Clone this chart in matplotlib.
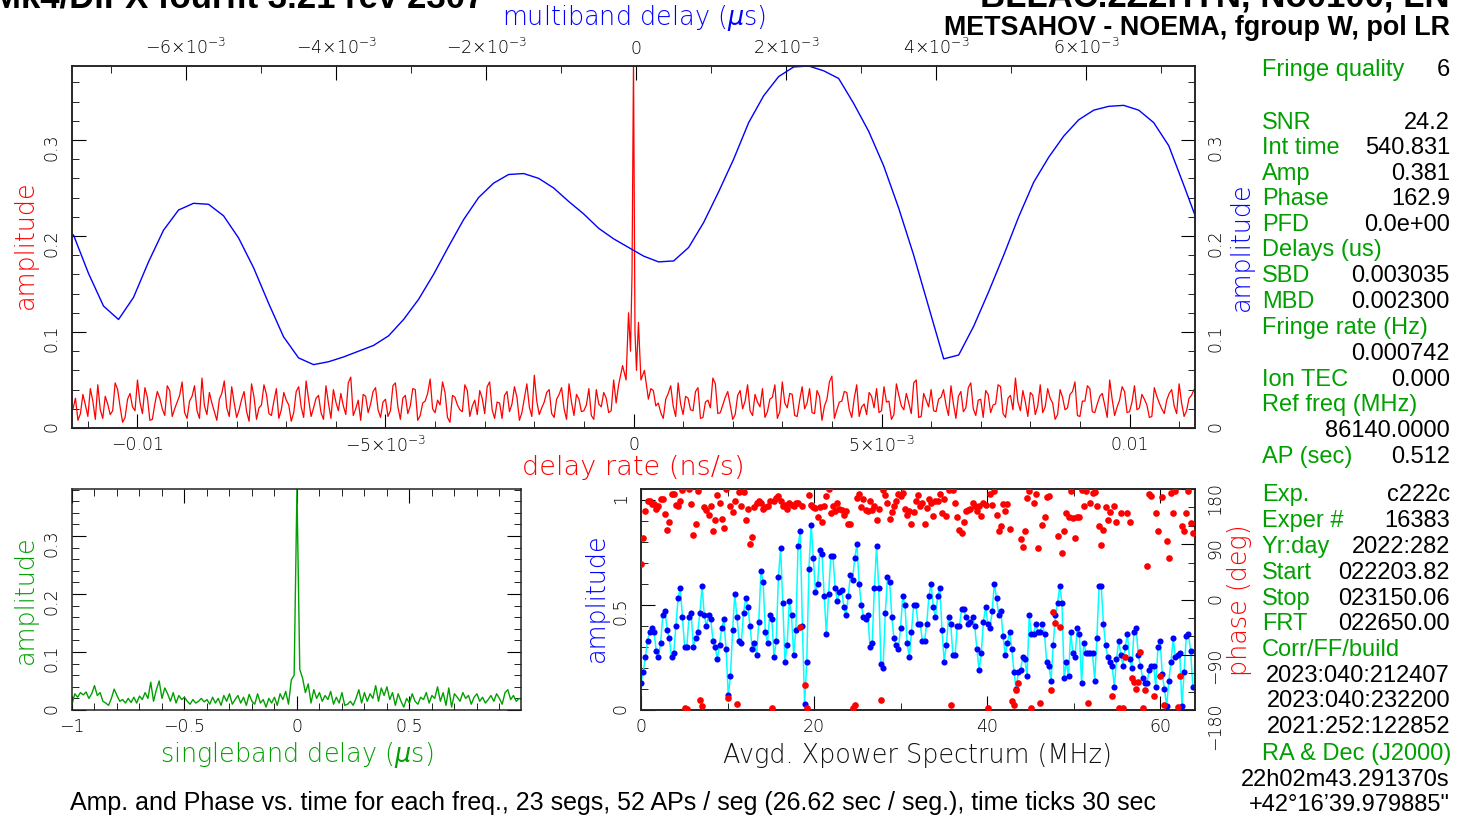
import numpy as np
import matplotlib
matplotlib.use("Agg")
import matplotlib.pyplot as plt
from matplotlib.ticker import MultipleLocator

plt.rcParams['font.family'] = ['DejaVu Sans']
plt.rcParams['font.weight'] = 'light'
plt.rcParams['mathtext.fontset'] = 'dejavusans'

W, H = 1470, 816
RED = "#ff0000"
BLUE = "#0000ff"
GREEN = "#00a000"
CYAN = "#00ffff"

# ---- delay rate amplitude (red, top panel): samples every 1e-4 ns/s and the ones in between ----
rate_noise = [
    .020, .008, .035, .012, .028, .045, .010, .025, .018, .040, .006, .030, .022, .050, .015, .032, .009, .038, .020, .044,
    .012, .027, .048, .010, .033, .018, .052, .014, .026, .008, .036, .021, .043, .011, .030, .017, .046, .009, .024, .035,
    .013, .041, .019, .029, .007, .038, .022, .049, .012, .031, .016, .044, .010, .027, .036, .014, .053, .020, .008, .033,
    .025, .042, .011, .030, .018, .047, .009, .034, .023, .040, .013, .028, .051, .016, .024, .037, .006, .032, .019, .045,
    .012, .029, .039, .015, .048, .010, .026, .034, .017, .043, .008, .031, .022, .055, .014, .027, .040, .011, .035, .020,
    .046, .013, .030, .018, .041, .009, .025, .037, .016, .050, .012, .028, .021, .044, .007, .033, .019, .039, .026, .010,
    .036, .023, .047, .014, .031, .018, .042, .011, .029, .052, .015, .024, .038, .009, .034, .020, .045, .013, .027, .041,
    .017, .032, .010, .048, .021, .035, .012, .043, .026, .016, .039, .008, .030, .054, .019, .028, .037, .011, .045, .022,
    .014, .033, .041, .018, .027, .009, .046, .023, .036, .015, .050, .012, .029, .040, .017, .032, .024, .044, .010, .038,
    .021, .047, .013, .030, .039, .016, .025, .043, .011, .034, .052, .018, .027, .037, .014, .045, .022, .031, .009, .040,
    .019, .035, .048, .012, .028, .041, .016, .033, .024, .050, .013, .029, .038, .017, .044, .021, .030, .011, .042, .026,
    .015, .036, .023, .046, .012, .031, .040]
rate_noise_mid = [
    .031, .015, .024, .041, .009, .019, .033, .014, .047, .022, .011, .036, .018, .027, .042, .008, .025, .031, .013, .039,
    .020, .034, .016, .028, .044, .010, .023, .037, .017, .030, .049, .012, .026, .019, .038, .007, .032, .021, .045, .015,
    .028, .010, .037, .024, .016, .043, .011, .030, .021, .034, .009, .026, .040, .018, .023, .047, .013, .029, .035, .016,
    .038, .019, .027, .012, .044, .022, .031, .015, .041, .008, .026, .036, .020, .029, .048, .011, .034, .024, .017, .039,
    .023, .014, .031, .043, .019, .027, .010, .038, .025, .032, .016, .046, .012, .028, .021, .037, .015, .030, .042, .009,
    .027, .035, .017, .024, .013, .040, .022, .031, .018, .026, .014, .037, .029, .020, .033, .011, .041, .023, .016, .030,
    .044, .012, .025, .033, .019, .038, .010, .027, .021, .046, .016, .032, .024, .014, .039, .028, .018, .035, .022, .011,
    .030, .045, .017, .026, .036, .013, .029, .020, .041, .015, .033, .023, .048, .010, .027, .038, .019, .031, .012, .025,
    .037, .021, .016, .043, .028, .014, .034, .019, .026, .047, .011, .036, .022, .018, .030, .040, .013, .025, .033, .017,
    .042, .020, .029, .011, .035, .024, .045, .015, .031, .019, .027, .039, .012, .034, .023, .016, .041, .026, .014, .032,
    .021, .038, .013, .028, .044, .017, .025, .036, .011, .030, .022, .043, .016, .027, .019, .035, .024, .012, .033, .020,
    .029, .040, .015, .026, .018, .034]
rate_peak_x = [-0.0003, -0.00022, -0.00015, -0.0001, -0.00006, -0.00003, 0.0,
               0.00003, 0.00006, 0.0001, 0.00015, 0.00022, 0.0003]
rate_peak_amp = [0.045, 0.065, 0.05, 0.12, 0.08, 0.16, 0.381,
                 0.10, 0.06, 0.11, 0.05, 0.06, 0.03]

# ---- multiband delay amplitude (blue, top panel), every 0.0002 us from -0.0075 ----
mbd_amp = [
    0.201, 0.161, 0.127, 0.113, 0.136, 0.173, 0.206, 0.227, 0.234, 0.233, 0.221, 0.198, 0.167, 0.130, 0.095, 0.073,
    0.066, 0.069, 0.074, 0.080, 0.086, 0.096, 0.113, 0.134, 0.160, 0.189, 0.217, 0.240, 0.255, 0.264, 0.265, 0.260,
    0.250, 0.236, 0.223, 0.208, 0.197, 0.188, 0.179, 0.173, 0.174, 0.188, 0.214, 0.246, 0.280, 0.318, 0.346, 0.366,
    0.376, 0.377, 0.372, 0.364, 0.338, 0.309, 0.273, 0.229, 0.180, 0.126, 0.072, 0.076, 0.106, 0.142, 0.180, 0.220,
    0.256, 0.282, 0.304, 0.321, 0.331, 0.335, 0.336, 0.331, 0.318, 0.294, 0.253, 0.211]

# ---- singleband delay amplitude (green) ----
sbd_amp = [
    .010, .028, .022, .030, .026, .031, .020, .028, .042, .025, .030, .015, .012, .008, .020, .036,
    .025, .015, .018, .012, .020, .013, .022, .012, .024, .018, .030, .020, .048, .015, .035, .050,
    .020, .038, .028, .015, .030, .012, .025, .018, .022, .015, .010, .018, .012, .015, .020, .014,
    .018, .010, .022, .012, .020, .008, .025, .015, .028, .010, .018, .025, .012, .022, .008, .027,
    .015, .010, .028, .012, .018, .005, .020, .012, .022, .008, .028, .018, .032, .010, .052, .060,
    .381, .070, .055, .030, .045, .012, .035, .020, .030, .015, .025, .018, .032, .010, .022, .012,
    .030, .008, .010, .015, .008, .020, .035, .012, .030, .015, .028, .020, .042, .015, .038, .025,
    .040, .018, .030, .008, .028, .015, .005, .020, .012, .028, .015, .010, .022, .018, .030, .012,
    .025, .020, .040, .015, .030, .008, .038, .005, .028, .022, .015, .030, .020, .025, .010, .022,
    .028, .015, .022, .012, .018, .025, .015, .028, .020, .010, .030, .035, .018, .025, .015, .020,
    .018]

# ---- averaged cross-power spectrum ----
xp_amp = [
    0.13, 0.18, 0.25, 0.33, 0.37, 0.39, 0.37, 0.28, 0.25, 0.32, 0.45, 0.47, 0.38, 0.34, 0.25, 0.27,
    0.40, 0.53, 0.58, 0.44, 0.30, 0.30, 0.44, 0.46, 0.30, 0.34, 0.37, 0.46, 0.59, 0.45, 0.40, 0.45,
    0.43, 0.33, 0.30, 0.24, 0.31, 0.39, 0.43, 0.29, 0.07, 0.16, 0.38, 0.55, 0.44, 0.33, 0.32, 0.46,
    0.53, 0.49, 0.40, 0.29, 0.32, 0.26, 0.42, 0.66, 0.61, 0.37, 0.32, 0.45, 0.43, 0.25, 0.33, 0.63,
    0.77, 0.51, 0.23, 0.31, 0.52, 0.45, 0.26, 0.38, 0.78, 0.85, 0.40, 0.03, 0.23, 0.67, 0.88, 0.72,
    0.56, 0.60, 0.76, 0.74, 0.54, 0.36, 0.55, 0.73, 0.73, 0.58, 0.52, 0.56, 0.57, 0.49, 0.45, 0.54,
    0.64, 0.62, 0.72, 0.79, 0.60, 0.50, 0.44, 0.43, 0.45, 0.30, 0.32, 0.58, 0.78, 0.58, 0.22, 0.20,
    0.46, 0.63, 0.61, 0.44, 0.34, 0.31, 0.29, 0.39, 0.54, 0.50, 0.32, 0.25, 0.37, 0.50, 0.50, 0.41,
    0.41, 0.33, 0.33, 0.41, 0.54, 0.60, 0.49, 0.44, 0.54, 0.58, 0.38, 0.23, 0.31, 0.44, 0.41, 0.26,
    0.26, 0.40, 0.40, 0.48, 0.48, 0.44, 0.41, 0.42, 0.44, 0.40, 0.29, 0.19, 0.27, 0.42, 0.49, 0.41,
    0.39, 0.47, 0.60, 0.53, 0.45, 0.47, 0.35, 0.26, 0.32, 0.37, 0.29, 0.18, 0.10, 0.18, 0.19, 0.25,
    0.24, 0.16, 0.45, 0.36, 0.36, 0.41, 0.37, 0.37, 0.41, 0.36, 0.23, 0.21, 0.14, 0.31, 0.45, 0.51,
    0.59, 0.51, 0.15, 0.23, 0.16, 0.37, 0.27, 0.25, 0.39, 0.36, 0.13, 0.32, 0.27, 0.27, 0.27, 0.27,
    0.14, 0.34, 0.59, 0.59, 0.41, 0.31, 0.25, 0.23, 0.21, 0.11, 0.24, 0.33, 0.26, 0.21, 0.30, 0.36,
    0.24, 0.20, 0.37, 0.39, 0.26, 0.21, 0.15, 0.13, 0.13, 0.19, 0.21, 0.21, 0.11, 0.30, 0.33, 0.17,
    0.10, 0.02, 0.14, 0.23, 0.34, 0.25, 0.26, 0.27, 0.02, 0.18, 0.35, 0.36, 0.28, 0.11]
xp_phase = [
    58, 100, 144, 161, 161, 156, 156, 147, 152, 163, 163, 139, 113, 126, 172, 172,
    154, 152, 160, 179, -177, -178, 180, 156, 105, 123, 177, -163, -174, 150, 146, 137,
    152, 112, 129, 170, 158, 131, 116, 180, -161, 152, 142, 160, -170, 175, 152, 175,
    130, 147, 91, 101, 150, 158, 161, 157, 147, 150, 152, 161, -177, 160, 165, 169,
    161, 152, 154, 147, 157, 154, 152, 157, 158, -44, 152, -139, -176, 171, 154, 150,
    149, 135, 150, 127, 152, 168, 180, 141, 153, 144, 157, 147, 145, 138, 144, 123,
    123, -177, -172, 165, 172, 150, 163, 146, 144, 160, 146, 152, 130, 148, -164, 178,
    171, 157, 131, 142, 152, 161, 172, 169, 174, 147, 138, 144, 123, 142, 160, 170,
    152, 158, 123, 149, 163, 158, 136, 161, 161, 172, 141, 163, 136, 179, -172, 179,
    157, 135, 114, 108, 126, 144, 145, 147, 157, 152, 144, 152, 136, 157, 154, -177,
    172, 154, 176, 138, 111, 120, 156, 144, 156, 115, -165, -172, -147, -136, 98, 86,
    111, 165, 176, -177, 158, 172, 84, -169, 122, 135, 167, 168, -147, -20, -38, 103,
    -44, 75, 111, 141, 134, 176, 133, 100, 135, 135, 179, 152, 176, -168, 157, 174,
    175, 152, 119, 88, 114, 150, 130, 142, -158, 152, 127, -177, 141, -176, -93, 141,
    127, -128, -134, -145, -134, -85, -177, -147, 54, 172, 168, -158, 141, 111, -125, 167,
    -172, 95, 68, 174, 141, 176, -175, -125, 119, 111, 141, 176, 124, 108]

# ---- right-hand summary text (label, value, baseline row in px) ----
info_rows = [
    ("Fringe quality", "6", 76),
    ("SNR", "24.2", 129), ("Int time", "540.831", 154), ("Amp", "0.381", 180),
    ("Phase", "162.9", 205), ("PFD", "0.0e+00", 231), ("Delays (us)", "", 256),
    ("SBD", "0.003035", 282), ("MBD", "0.002300", 308), ("Fringe rate (Hz)", "", 334),
    ("", "0.000742", 360), ("Ion TEC", "0.000", 386), ("Ref freq (MHz)", "", 411),
    ("", "86140.0000", 437), ("AP (sec)", "0.512", 463),
    ("Exp.", "c222c", 501), ("Exper #", "16383", 527), ("Yr:day", "2022:282", 553),
    ("Start", "022203.82", 579), ("Stop", "023150.06", 605), ("FRT", "022650.00", 630),
    ("Corr/FF/build", "", 656), ("", "2023:040:212407", 682), ("", "2023:040:232200", 707),
    ("", "2021:252:122852", 733), ("RA & Dec (J2000)", "", 760),
    ("", "22h02m43.291370s", 786), ("", "+42\u00b016\u201939.979885\"", 811),
]


def fx(px):
    return px / W


def fy(py):
    return 1 - py / H


def frame(a):
    for s in a.spines.values():
        s.set_color("#222222")
        s.set_linewidth(1.1)


TS = 12.5   # tick label size
LS = 18.4   # axis label size

fig = plt.figure(figsize=(W / 100, H / 100), dpi=100)

# ================= top panel =================
ax = fig.add_axes([fx(72), fy(428), (1195 - 72) / W, (428 - 66) / H])
noise = np.empty(len(rate_noise) + len(rate_noise_mid))
noise[0::2] = rate_noise
noise[1::2] = rate_noise_mid
rx = np.linspace(-0.0113, 0.0113, len(noise))
keep = np.abs(rx) > 0.00032
rate_x = np.concatenate([rx[keep], rate_peak_x])
rate_amp = np.concatenate([noise[keep], rate_peak_amp])
order = np.argsort(rate_x)
ax.plot(rate_x[order], rate_amp[order], color=RED, lw=0.9)
ax.set_xlim(-0.01132, 0.01132)
ax.set_ylim(0, 0.377)
ax.set_xticks([-0.01, -0.005, 0, 0.005, 0.01],
              labels=["\u22120.01", r"$-5{\times}10^{-3}$", "0", r"$5{\times}10^{-3}$", "0.01"])
ax.xaxis.set_minor_locator(MultipleLocator(0.001))
ax.set_yticks([0, 0.1, 0.2, 0.3], labels=["0", "0.1", "0.2", "0.3"])
ax.yaxis.set_minor_locator(MultipleLocator(0.02))
ax.tick_params(axis='x', which='both', direction='in', top=False, bottom=True, labelsize=TS, pad=6)
ax.tick_params(axis='y', which='both', direction='in', left=True, right=True,
               labelleft=True, labelright=True, labelsize=TS, labelrotation=90, pad=8)
ax.tick_params(which='major', length=10)
ax.tick_params(which='minor', length=5)
frame(ax)

axt = ax.twiny()
mbd_x = np.linspace(-0.0075, 0.0075, len(mbd_amp))
axt.plot(mbd_x, mbd_amp, color=BLUE, lw=1.0)
axt.set_xlim(-0.00752, 0.00745)
axt.set_xticks([-0.006, -0.004, -0.002, 0, 0.002, 0.004, 0.006],
               labels=[r"$-6{\times}10^{-3}$", r"$-4{\times}10^{-3}$", r"$-2{\times}10^{-3}$", "0",
                       r"$2{\times}10^{-3}$", r"$4{\times}10^{-3}$", r"$6{\times}10^{-3}$"])
axt.xaxis.set_minor_locator(MultipleLocator(0.001))
axt.tick_params(axis='x', which='both', direction='in', top=True, bottom=False, labelsize=TS, pad=6)
axt.tick_params(which='major', length=10)
axt.tick_params(which='minor', length=5)
frame(axt)

fig.text(fx(25), fy(245), "amplitude", color=RED, fontsize=LS, rotation=90, ha='center', va='center')
fig.text(fx(1241), fy(247), "amplitude", color=BLUE, fontsize=LS, rotation=90, ha='center', va='center')
fig.text(fx(634), fy(18), r"multiband delay ($\mu$s)", color=BLUE, fontsize=LS, ha='center', va='center')
fig.text(fx(633), fy(467), "delay rate (ns/s)", color=RED, fontsize=19.5, ha='center', va='center')

# ================= singleband delay panel =================
ax2 = fig.add_axes([fx(72), fy(710), (521 - 72) / W, (710 - 489) / H])
sbd_x = np.linspace(-1, 1, len(sbd_amp))
ax2.plot(sbd_x, sbd_amp, color=GREEN, lw=1.0)
ax2.set_xlim(-1, 0.996)
ax2.set_ylim(0, 0.381)
ax2.set_xticks([-1, -0.5, 0, 0.5], labels=["\u22121", "\u22120.5", "0", "0.5"])
ax2.xaxis.set_minor_locator(MultipleLocator(0.1))
ax2.set_yticks([0, 0.1, 0.2, 0.3], labels=["0", "0.1", "0.2", "0.3"])
ax2.yaxis.set_minor_locator(MultipleLocator(0.02))
ax2.tick_params(axis='x', which='both', direction='in', top=True, bottom=True, labelsize=TS, pad=6)
ax2.tick_params(axis='y', which='both', direction='in', left=True, right=True,
                labelsize=TS, labelrotation=90, pad=8)
ax2.tick_params(which='major', length=10)
ax2.tick_params(which='minor', length=5)
frame(ax2)
fig.text(fx(25), fy(600), "amplitude", color=GREEN, fontsize=LS, rotation=90, ha='center', va='center')
fig.text(fx(297), fy(755), r"singleband delay ($\mu$s)", color=GREEN, fontsize=LS, ha='center', va='center')

# ================= cross-power spectrum panel =================
ax3 = fig.add_axes([fx(641), fy(710), (1195 - 641) / W, (710 - 489) / H])
xp_x = np.linspace(0, 63.75, len(xp_amp))
ph_x = np.linspace(0, 63.75, len(xp_phase))
ax3.plot(xp_x, xp_amp, color=CYAN, lw=1.1, zorder=2)
ax3.plot(xp_x, xp_amp, 'o', color=BLUE, ms=4.4, mew=0, zorder=3)
ax3.set_xlim(0, 64)
ax3.set_ylim(0, 1.05)
ax3.set_xticks([0, 20, 40, 60], labels=["0", "20", "40", "60"])
ax3.xaxis.set_minor_locator(MultipleLocator(10))
ax3.set_yticks([0, 0.5, 1], labels=["0", "0.5", "1"])
ax3.yaxis.set_minor_locator(MultipleLocator(0.1))
ax3.tick_params(axis='x', which='both', direction='in', top=True, bottom=True, labelsize=TS, pad=6)
ax3.tick_params(axis='y', which='both', direction='in', left=True, right=False,
                labelsize=TS, labelrotation=90, pad=8)
ax3.tick_params(which='major', length=10)
ax3.tick_params(which='minor', length=5)
frame(ax3)

ax3r = ax3.twinx()
ax3r.plot(ph_x, xp_phase, 'o', color=RED, ms=4.8, mew=0, ls='none', zorder=4)
ax3r.set_ylim(-180, 180)
ax3r.set_yticks([-180, -90, 0, 90, 180], labels=["\u2212180", "\u221290", "0", "90", "180"])
ax3r.yaxis.set_minor_locator(MultipleLocator(30))
ax3r.tick_params(axis='y', which='both', direction='in', right=True, labelsize=TS, labelrotation=90, pad=8)
ax3r.tick_params(which='major', length=10)
ax3r.tick_params(which='minor', length=5)
frame(ax3r)

fig.text(fx(596), fy(598), "amplitude", color=BLUE, fontsize=LS, rotation=90, ha='center', va='center')
fig.text(fx(1240), fy(600), "phase (deg)", color=RED, fontsize=LS, rotation=90, ha='center', va='center')
fig.text(fx(917), fy(755), "Avgd. Xpower Spectrum (MHz)", color="#111111", fontsize=LS, ha='center', va='center')

# ================= header / footer =================
hdr = dict(family='Liberation Sans', weight='bold', color='black')
fig.text(fx(-8), fy(7), "Mk4/DiFX fourfit 3.21 rev 2307", fontsize=25, ha='left', va='baseline', **hdr)
fig.text(fx(1450), fy(7), "BLLAC.2Z2HYN, No0100, LN", fontsize=25, ha='right', va='baseline', **hdr)
fig.text(fx(1450), fy(35), "METSAHOV - NOEMA, fgroup W, pol LR", fontsize=19.4, ha='right', va='baseline', **hdr)

fig.text(fx(613), fy(810),
         "Amp. and Phase vs. time for each freq., 23 segs, 52 APs / seg (26.62 sec / seg.), time ticks 30 sec",
         family='Liberation Sans', weight='normal', fontsize=18, ha='center', va='baseline', color='black')

# ================= summary column =================
for label, value, base in info_rows:
    if label:
        fig.text(fx(1262), fy(base), label, family='Liberation Sans', weight='normal', fontsize=17,
                 color=GREEN, ha='left', va='baseline')
    if value:
        fig.text(fx(1450), fy(base), value, family='Liberation Sans', weight='normal', fontsize=17,
                 color='black', ha='right', va='baseline')

fig.savefig("out.png", dpi=100)
